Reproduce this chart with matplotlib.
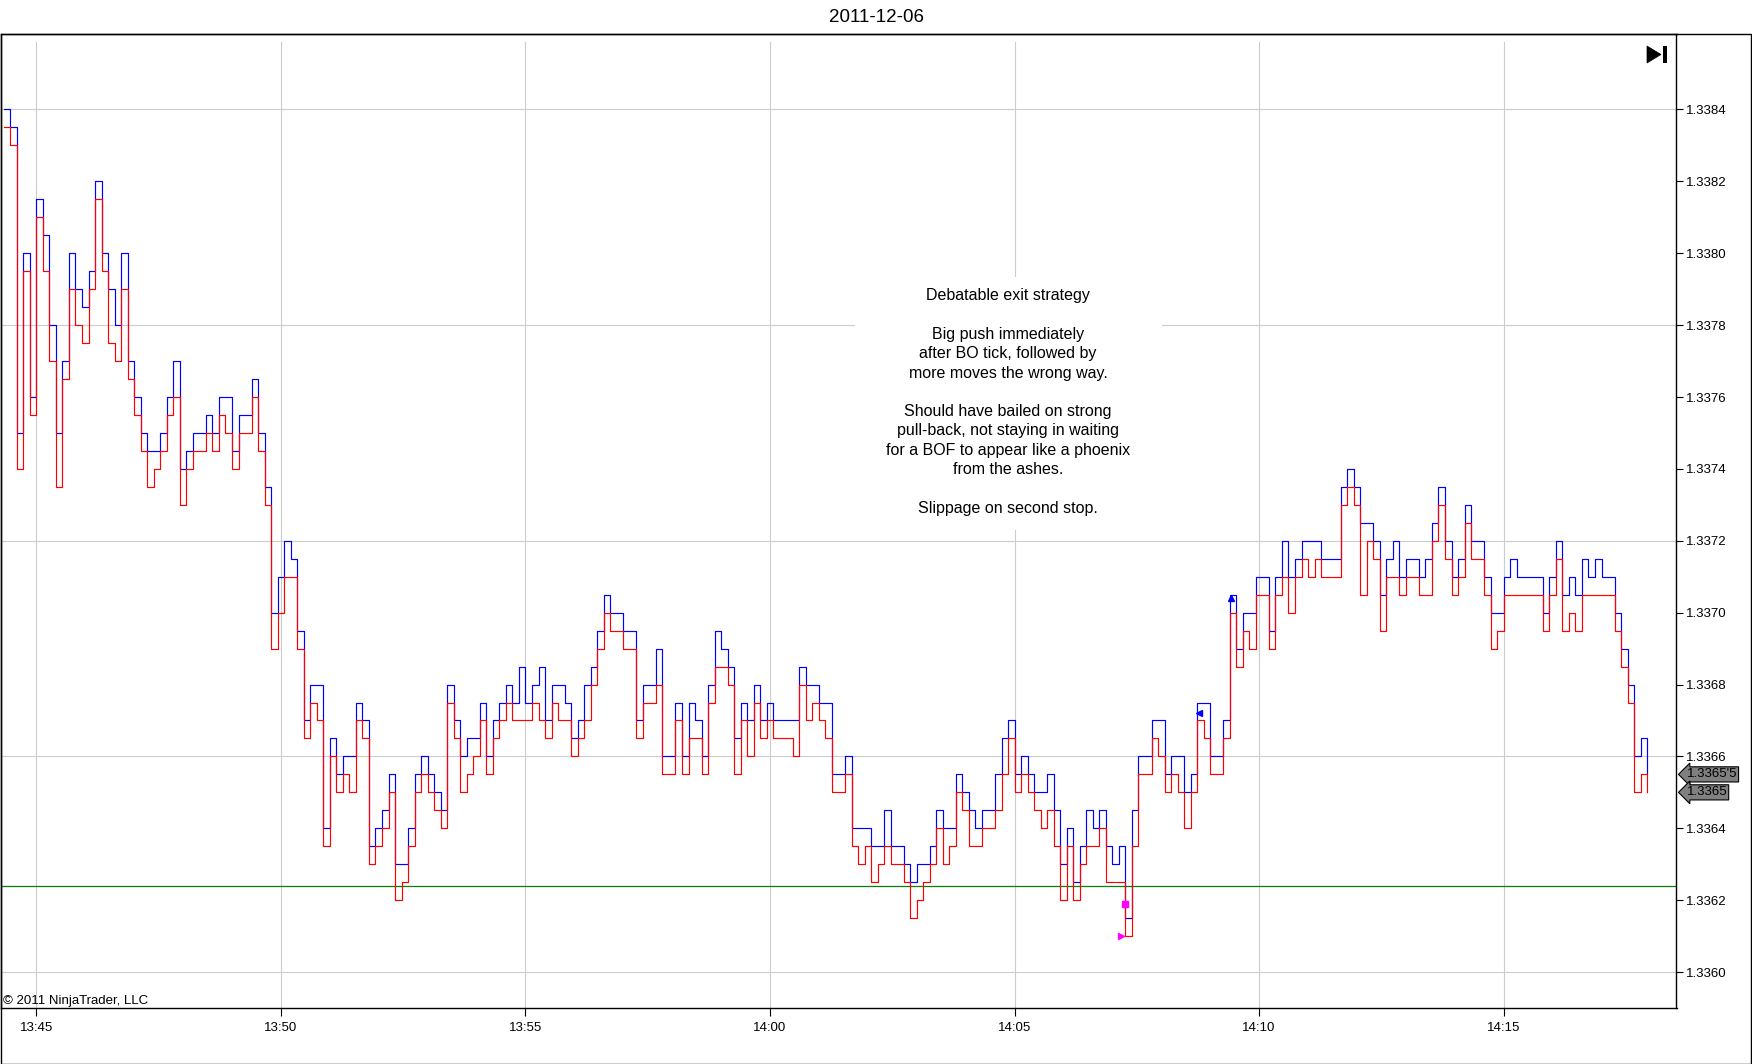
import numpy as np
import pandas as pd
import matplotlib
matplotlib.use("Agg")
import matplotlib.pyplot as plt
import matplotlib.dates as mdates
import matplotlib.transforms as mtransforms
from matplotlib.patches import Rectangle, Polygon

plt.rcParams['font.family'] = ['Liberation Sans', 'DejaVu Sans']

# EUR/USD tick chart, bid (red) and ask (blue), sampled every 8 seconds
start_time = '2011-12-06 13:44:20'
step_sec = 8

bid = [
    1.33835, 1.33830, 1.33740, 1.33795, 1.33755, 1.33810, 1.33795, 1.33770, 1.33735, 1.33765,
    1.33790, 1.33780, 1.33775, 1.33790, 1.33815, 1.33795, 1.33775, 1.33770, 1.33790, 1.33765,
    1.33755, 1.33745, 1.33735, 1.33740, 1.33745, 1.33755, 1.33760, 1.33730, 1.33740, 1.33745,
    1.33745, 1.33750, 1.33745, 1.33755, 1.33750, 1.33740, 1.33750, 1.33750, 1.33760, 1.33745,
    1.33730, 1.33690, 1.33700, 1.33710, 1.33710, 1.33690, 1.33665, 1.33675, 1.33670, 1.33635,
    1.33660, 1.33650, 1.33655, 1.33650, 1.33670, 1.33665, 1.33630, 1.33635, 1.33640, 1.33650,
    1.33620, 1.33625, 1.33635, 1.33650, 1.33655, 1.33650, 1.33645, 1.33640, 1.33675, 1.33665,
    1.33650, 1.33655, 1.33660, 1.33670, 1.33655, 1.33665, 1.33670, 1.33675, 1.33670, 1.33670,
    1.33670, 1.33675, 1.33670, 1.33665, 1.33675, 1.33670, 1.33670, 1.33660, 1.33665, 1.33670,
    1.33680, 1.33690, 1.33700, 1.33695, 1.33695, 1.33690, 1.33690, 1.33665, 1.33675, 1.33675,
    1.33680, 1.33655, 1.33655, 1.33670, 1.33655, 1.33665, 1.33665, 1.33655, 1.33675, 1.33685,
    1.33685, 1.33680, 1.33655, 1.33670, 1.33660, 1.33675, 1.33665, 1.33670, 1.33665, 1.33665,
    1.33665, 1.33660, 1.33680, 1.33670, 1.33675, 1.33670, 1.33665, 1.33650, 1.33650, 1.33655,
    1.33635, 1.33630, 1.33635, 1.33625, 1.33630, 1.33635, 1.33630, 1.33630, 1.33625, 1.33615,
    1.33620, 1.33625, 1.33630, 1.33640, 1.33630, 1.33635, 1.33650, 1.33645, 1.33635, 1.33635,
    1.33640, 1.33640, 1.33645, 1.33655, 1.33665, 1.33650, 1.33655, 1.33650, 1.33645, 1.33640,
    1.33645, 1.33635, 1.33620, 1.33635, 1.33620, 1.33630, 1.33635, 1.33635, 1.33640, 1.33625,
    1.33625, 1.33625, 1.33610, 1.33635, 1.33655, 1.33655, 1.33665, 1.33660, 1.33650, 1.33655,
    1.33650, 1.33640, 1.33650, 1.33670, 1.33665, 1.33655, 1.33655, 1.33665, 1.33700, 1.33685,
    1.33695, 1.33690, 1.33705, 1.33705, 1.33690, 1.33705, 1.33710, 1.33700, 1.33710, 1.33715,
    1.33710, 1.33715, 1.33710, 1.33710, 1.33710, 1.33730, 1.33735, 1.33730, 1.33705, 1.33720,
    1.33715, 1.33695, 1.33710, 1.33710, 1.33705, 1.33710, 1.33710, 1.33705, 1.33705, 1.33720,
    1.33730, 1.33715, 1.33705, 1.33710, 1.33725, 1.33715, 1.33715, 1.33705, 1.33690, 1.33695,
    1.33705, 1.33705, 1.33705, 1.33705, 1.33705, 1.33705, 1.33695, 1.33705, 1.33715, 1.33695,
    1.33700, 1.33695, 1.33705, 1.33705, 1.33705, 1.33705, 1.33705, 1.33695, 1.33685, 1.33675,
    1.33650, 1.33655, 1.33650,
]

ask = [
    1.33840, 1.33835, 1.33750, 1.33800, 1.33760, 1.33815, 1.33805, 1.33780, 1.33750, 1.33770,
    1.33800, 1.33790, 1.33785, 1.33795, 1.33820, 1.33800, 1.33790, 1.33780, 1.33800, 1.33770,
    1.33760, 1.33750, 1.33745, 1.33745, 1.33750, 1.33760, 1.33770, 1.33740, 1.33745, 1.33750,
    1.33750, 1.33755, 1.33750, 1.33760, 1.33760, 1.33745, 1.33755, 1.33755, 1.33765, 1.33750,
    1.33735, 1.33700, 1.33710, 1.33720, 1.33715, 1.33695, 1.33670, 1.33680, 1.33680, 1.33640,
    1.33665, 1.33655, 1.33660, 1.33660, 1.33675, 1.33670, 1.33635, 1.33640, 1.33645, 1.33655,
    1.33630, 1.33630, 1.33640, 1.33655, 1.33660, 1.33655, 1.33650, 1.33645, 1.33680, 1.33670,
    1.33660, 1.33665, 1.33665, 1.33675, 1.33660, 1.33670, 1.33675, 1.33680, 1.33675, 1.33685,
    1.33675, 1.33680, 1.33685, 1.33670, 1.33680, 1.33680, 1.33675, 1.33665, 1.33670, 1.33680,
    1.33685, 1.33695, 1.33705, 1.33700, 1.33700, 1.33695, 1.33695, 1.33670, 1.33680, 1.33680,
    1.33690, 1.33660, 1.33660, 1.33675, 1.33660, 1.33675, 1.33670, 1.33660, 1.33680, 1.33695,
    1.33690, 1.33685, 1.33665, 1.33675, 1.33670, 1.33680, 1.33670, 1.33675, 1.33670, 1.33670,
    1.33670, 1.33670, 1.33685, 1.33680, 1.33680, 1.33675, 1.33675, 1.33655, 1.33655, 1.33660,
    1.33640, 1.33640, 1.33640, 1.33635, 1.33635, 1.33645, 1.33635, 1.33635, 1.33630, 1.33625,
    1.33630, 1.33630, 1.33635, 1.33645, 1.33640, 1.33640, 1.33655, 1.33650, 1.33645, 1.33640,
    1.33645, 1.33645, 1.33655, 1.33665, 1.33670, 1.33655, 1.33660, 1.33655, 1.33650, 1.33650,
    1.33655, 1.33645, 1.33630, 1.33640, 1.33625, 1.33635, 1.33645, 1.33640, 1.33645, 1.33635,
    1.33630, 1.33635, 1.33615, 1.33645, 1.33660, 1.33660, 1.33670, 1.33670, 1.33655, 1.33660,
    1.33660, 1.33650, 1.33655, 1.33675, 1.33675, 1.33660, 1.33660, 1.33670, 1.33705, 1.33690,
    1.33700, 1.33700, 1.33710, 1.33710, 1.33695, 1.33710, 1.33720, 1.33710, 1.33715, 1.33720,
    1.33720, 1.33720, 1.33715, 1.33715, 1.33715, 1.33735, 1.33740, 1.33735, 1.33725, 1.33725,
    1.33720, 1.33705, 1.33715, 1.33720, 1.33710, 1.33715, 1.33715, 1.33710, 1.33715, 1.33725,
    1.33735, 1.33720, 1.33710, 1.33715, 1.33730, 1.33720, 1.33720, 1.33710, 1.33700, 1.33700,
    1.33710, 1.33715, 1.33710, 1.33710, 1.33710, 1.33710, 1.33700, 1.33710, 1.33720, 1.33705,
    1.33710, 1.33705, 1.33715, 1.33710, 1.33715, 1.33710, 1.33710, 1.33700, 1.33690, 1.33680,
    1.33660, 1.33665, 1.33655,
]

# trade markers
short_times = ['2011-12-06 14:07:11', '2011-12-06 14:07:15']
short_prices = [1.33610, 1.33619]
long_times = ['2011-12-06 14:08:46', '2011-12-06 14:09:25']
long_prices = [1.33672, 1.33704]

stop_level = 1.33624
y_ticks = [1.3360, 1.3362, 1.3364, 1.3366, 1.3368, 1.3370, 1.3372, 1.3374,
           1.3376, 1.3378, 1.3380, 1.3382, 1.3384]
grid_prices = [1.3360, 1.3366, 1.3372, 1.3378, 1.3384]
x_ticks = ['13:45', '13:50', '13:55', '14:00', '14:05', '14:10', '14:15']

note = ("Debatable exit strategy\n\n"
        "Big push immediately\nafter BO tick, followed by\nmore moves the wrong way.\n\n"
        "Should have bailed on strong\npull-back, not staying in waiting\n"
        "for a BOF to appear like a phoenix\nfrom the ashes.\n\n"
        "Slippage on second stop.")

W, H = 1752, 1064


def fx(px):
    return px / W


def fy(py):
    return 1 - py / H


times = pd.Timestamp(start_time) + pd.to_timedelta(np.arange(len(bid)) * step_sec, unit='s')

fig = plt.figure(figsize=(W / 100, H / 100), dpi=100)
ax = fig.add_axes([fx(0.5), fy(1008), fx(1676), fy(34) - fy(1008)])

for p in grid_prices:
    ax.axhline(p, color='#cccccc', lw=0.8, zorder=0.5)
for t in x_ticks:
    ax.axvline(pd.Timestamp('2011-12-06 ' + t), ymax=0.992, color='#cccccc', lw=0.8, zorder=0.5)

ax.axhline(stop_level, color='#0b7d0b', lw=0.9, zorder=1.5)

ax.plot(times, ask, color='#0000ff', lw=0.85, drawstyle='steps-post', zorder=2)
ax.plot(times, bid, color='#ff0000', lw=0.85, drawstyle='steps-post', zorder=2.1)

ax.plot(pd.to_datetime(short_times[:1]), short_prices[:1], '>', color='#ff00ff', ms=4, zorder=3)
ax.plot(pd.to_datetime(short_times[1:]), short_prices[1:], 's', color='#ff00ff', ms=4, zorder=3)
ax.plot(pd.to_datetime(long_times[:1]), long_prices[:1], '<', color='#0000ff', ms=5, zorder=3)
ax.plot(pd.to_datetime(long_times[1:]), long_prices[1:], '^', color='#0000ff', ms=5, zorder=3)

ax.set_xlim(pd.Timestamp('2011-12-06 13:44:16'), pd.Timestamp('2011-12-06 14:18:32'))
ax.set_ylim(1.33590, 1.33861)

ax.set_xticks([pd.Timestamp('2011-12-06 ' + t) for t in x_ticks])
ax.xaxis.set_major_formatter(mdates.DateFormatter('%H:%M'))
ax.set_yticks(y_ticks)
ax.set_yticklabels([f'{v:.4f}' for v in y_ticks])
ax.yaxis.tick_right()
ax.tick_params(axis='both', direction='out', labelsize=9.5, width=0.8, color='black')
ax.tick_params(axis='y', length=5, pad=2)
ax.tick_params(axis='x', length=6, pad=4)
for s in ax.spines.values():
    s.set_linewidth(1.0)
    s.set_color('black')

# last price tags
blend = mtransforms.blended_transform_factory(ax.transAxes, ax.transData)
tag_off = mtransforms.offset_copy(blend, fig=fig, x=10, y=0, units='dots')
for v, lbl in [(ask[-1], "1.3365'5"), (bid[-1], "1.3365")]:
    ax.text(1.0, v, lbl, transform=tag_off, ha='left', va='center', fontsize=9.5,
            color='black', clip_on=False,
            bbox=dict(boxstyle='larrow,pad=0.12', fc='#808080', ec='black', lw=0.8))

# note with white background
ax.add_patch(Rectangle((fx(855), fy(530)), fx(307), fy(277) - fy(530), transform=fig.transFigure,
                       fc='white', ec='none', zorder=1))
fig.text(fx(1008), fy(402), note, ha='center', va='center', ma='center', fontsize=11.5,
         linespacing=1.36, zorder=5)

fig.text(0.5, fy(17), '2011-12-06', ha='center', va='center', fontsize=13.5)
fig.text(fx(3), fy(1004), '\u00a9 2011 NinjaTrader, LLC', ha='left', va='baseline', fontsize=9.5)

# outer frame and scroll icon
fig.patches.append(Rectangle((fx(0.5), fy(1063.5)), fx(1751) - fx(0.5), fy(34) - fy(1063.5),
                             transform=fig.transFigure, fill=False, ec='black', lw=1.0))
fig.patches.append(Polygon([(fx(1647), fy(46)), (fx(1647), fy(63)), (fx(1661), fy(54.5))],
                           closed=True, transform=fig.transFigure, fc='black', ec='black', lw=0.5))
fig.patches.append(Rectangle((fx(1663), fy(63)), fx(4), fy(46) - fy(63),
                             transform=fig.transFigure, fc='black', ec='none'))

fig.savefig('out.png', dpi=100, facecolor='white')
